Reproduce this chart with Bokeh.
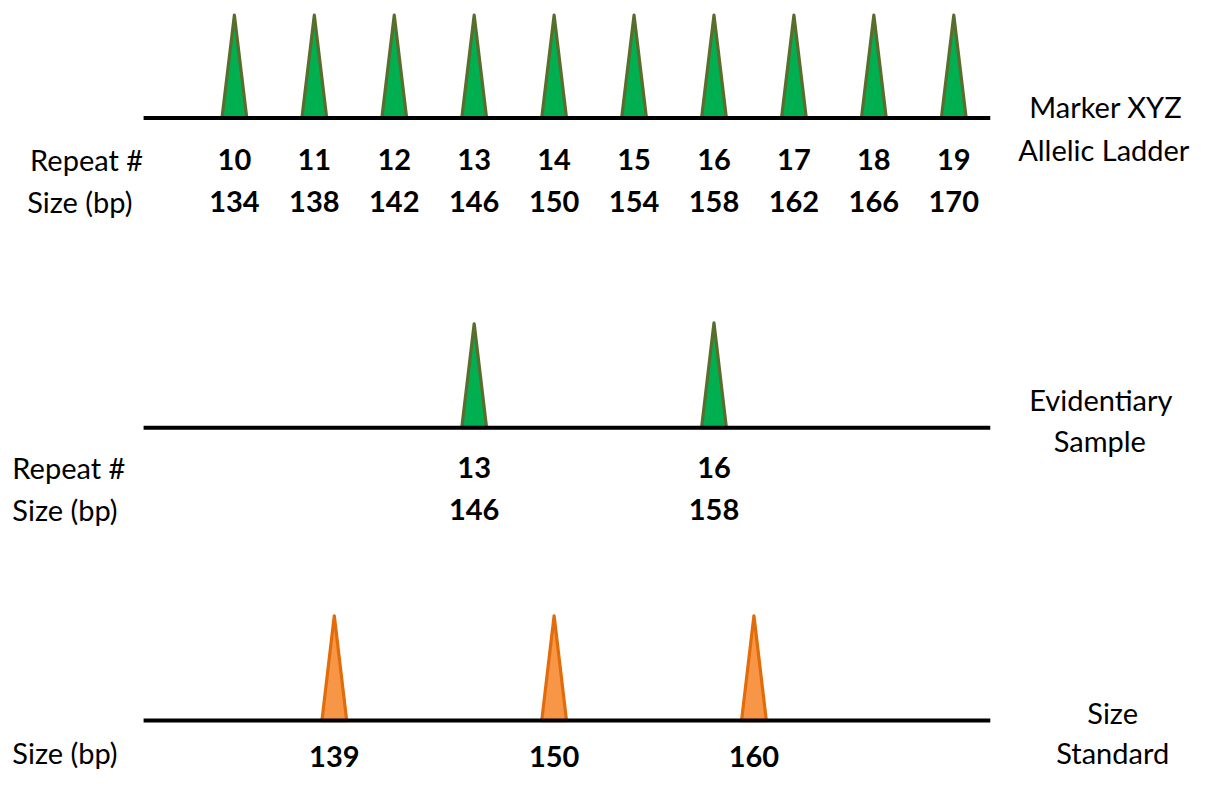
from bokeh.plotting import figure
from bokeh.models import Range1d, ColumnDataSource
from bokeh.core.properties import value
from bokeh.embed import file_html
from bokeh.resources import INLINE

# ---- data ----
repeats = [10, 11, 12, 13, 14, 15, 16, 17, 18, 19]
ladder_sizes = [134, 138, 142, 146, 150, 154, 158, 162, 166, 170]
sample_repeats = [13, 16]
sample_sizes = [146, 158]
standard_sizes = [139, 150, 160]
ladder_heights = [105] * 10
sample_heights = [106, 107]
standard_heights = [107, 107, 107]
row_titles = [["Marker XYZ", "Allelic Ladder"], ["Evidentiary", "Sample"], ["Size", "Standard"]]

# ---- layout ----
W, H = 1199, 772
BP0, PX0, PXPERBP = 134, 237, 20.25     # layout: reference scale


def px2bp(px):
    return BP0 + (px - PX0) / PXPERBP


p = figure(width=W, height=H, output_backend="svg", toolbar_location=None,
           x_range=Range1d(px2bp(0), px2bp(1215)), y_range=Range1d(788, 0),
           min_border=0, min_border_left=0, min_border_right=0,
           min_border_top=0, min_border_bottom=0)
p.axis.visible = False
p.grid.visible = False
p.outline_line_color = None
p.background_fill_color = "white"
p.border_fill_color = "white"

FONT = value("Lato")
HW = 0.62          # half width of a peak base (bp)
LINE_X0, LINE_X1 = px2bp(145), px2bp(1003)

green_fill, green_line = "#00b050", "#596d2d"
orange_fill, orange_line = "#f79646", "#e36c0a"


def peaks(sizes, heights, base, fill, line):
    xs = [[s - HW, s, s + HW] for s in sizes]
    ys = [[base, base - h, base] for h in heights]
    p.patches(xs, ys, fill_color=fill, line_color=line, line_width=3.2, line_join="round")
    p.line([LINE_X0, LINE_X1], [base, base], line_color="black", line_width=4)


def texts(xs, ys, labels, size="29px", bold=True, align="center"):
    src = ColumnDataSource(dict(x=xs, y=ys, t=[str(l) for l in labels]))
    p.text("x", "y", "t", source=src, text_font=FONT, text_font_size=size,
           text_font_style="bold" if bold else "normal", text_align=align,
           text_baseline="middle", text_color="black")


LBL = "29px"

# row 1: allelic ladder
b1 = 120
peaks(ladder_sizes, ladder_heights, b1, green_fill, green_line)
texts(ladder_sizes, [162] * len(repeats), repeats)
texts(ladder_sizes, [205] * len(repeats), ladder_sizes)
texts([px2bp(30)], [162], ["Repeat #"], bold=False, align="left", size=LBL)
texts([px2bp(27)], [205], ["Size (bp)"], bold=False, align="left", size=LBL)
texts([px2bp(1120), px2bp(1118)], [108, 152], row_titles[0], bold=False, size=LBL)

# row 2: evidentiary sample
b2 = 436
peaks(sample_sizes, sample_heights, b2, green_fill, green_line)
texts(sample_sizes, [477] * 2, sample_repeats)
texts(sample_sizes, [520] * 2, sample_sizes)
texts([px2bp(12)], [477], ["Repeat #"], bold=False, align="left", size=LBL)
texts([px2bp(12)], [520], ["Size (bp)"], bold=False, align="left", size=LBL)
texts([px2bp(1115), px2bp(1114)], [407, 449], row_titles[1], bold=False, size=LBL)

# row 3: size standard
b3 = 735
peaks(standard_sizes, standard_heights, b3, orange_fill, orange_line)
texts(standard_sizes, [772] * 3, standard_sizes)
texts([px2bp(12)], [768], ["Size (bp)"], bold=False, align="left", size=LBL)
texts([px2bp(1127), px2bp(1127)], [727, 768], row_titles[2], bold=False, size=LBL)

open("out.html", "w").write(file_html(p, INLINE))
